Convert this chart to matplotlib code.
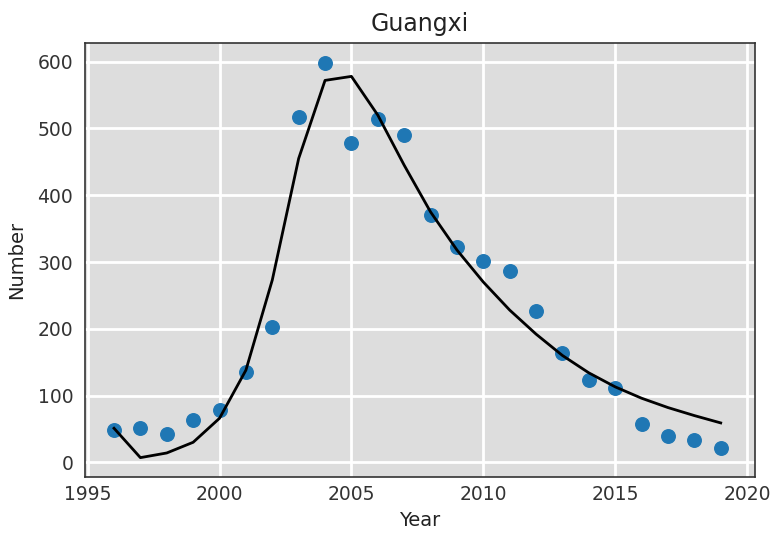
import matplotlib.pyplot as plt

years = list(range(1996, 2020))
observed = [49, 52, 43, 64, 78, 136, 202, 517, 598, 478, 514, 490,
            370, 322, 301, 286, 226, 163, 124, 111, 58, 39, 34, 22]
fitted = [51, 7, 14, 30, 66, 138, 273, 455, 572, 578, 520, 445,
          375, 318, 270, 228, 192, 160, 134, 113, 96, 82, 70, 59]

fig = plt.figure(figsize=(7.74, 5.33), dpi=100)
ax = fig.add_axes([85 / 774, 56 / 533, 670 / 774, 434 / 533])
ax.set_facecolor('#dddddd')
ax.grid(True, color='white', linewidth=2)
ax.set_axisbelow(True)
for s in ax.spines.values():
    s.set_color('#333333')
    s.set_linewidth(1.2)
ax.tick_params(length=0, labelsize=13.5, colors='#333333')
ax.tick_params(axis='x', pad=5.5)
ax.tick_params(axis='y', pad=8.5)

ax.scatter(years, observed, s=95, color='#1f77b4', zorder=3)
ax.plot(years, fitted, color='black', linewidth=2, zorder=4)

ax.set_xlim(1994.9, 2020.3)
ax.set_ylim(-22, 628)
ax.set_xticks(range(1995, 2021, 5))
ax.set_yticks(range(0, 601, 100))
ax.set_title('Guangxi', fontsize=17, pad=9, color='#222222')
ax.set_xlabel('Year', fontsize=14, labelpad=5, color='#222222')
ax.set_ylabel('Number', fontsize=14, labelpad=8, color='#222222')

fig.savefig('out.png', dpi=100)
